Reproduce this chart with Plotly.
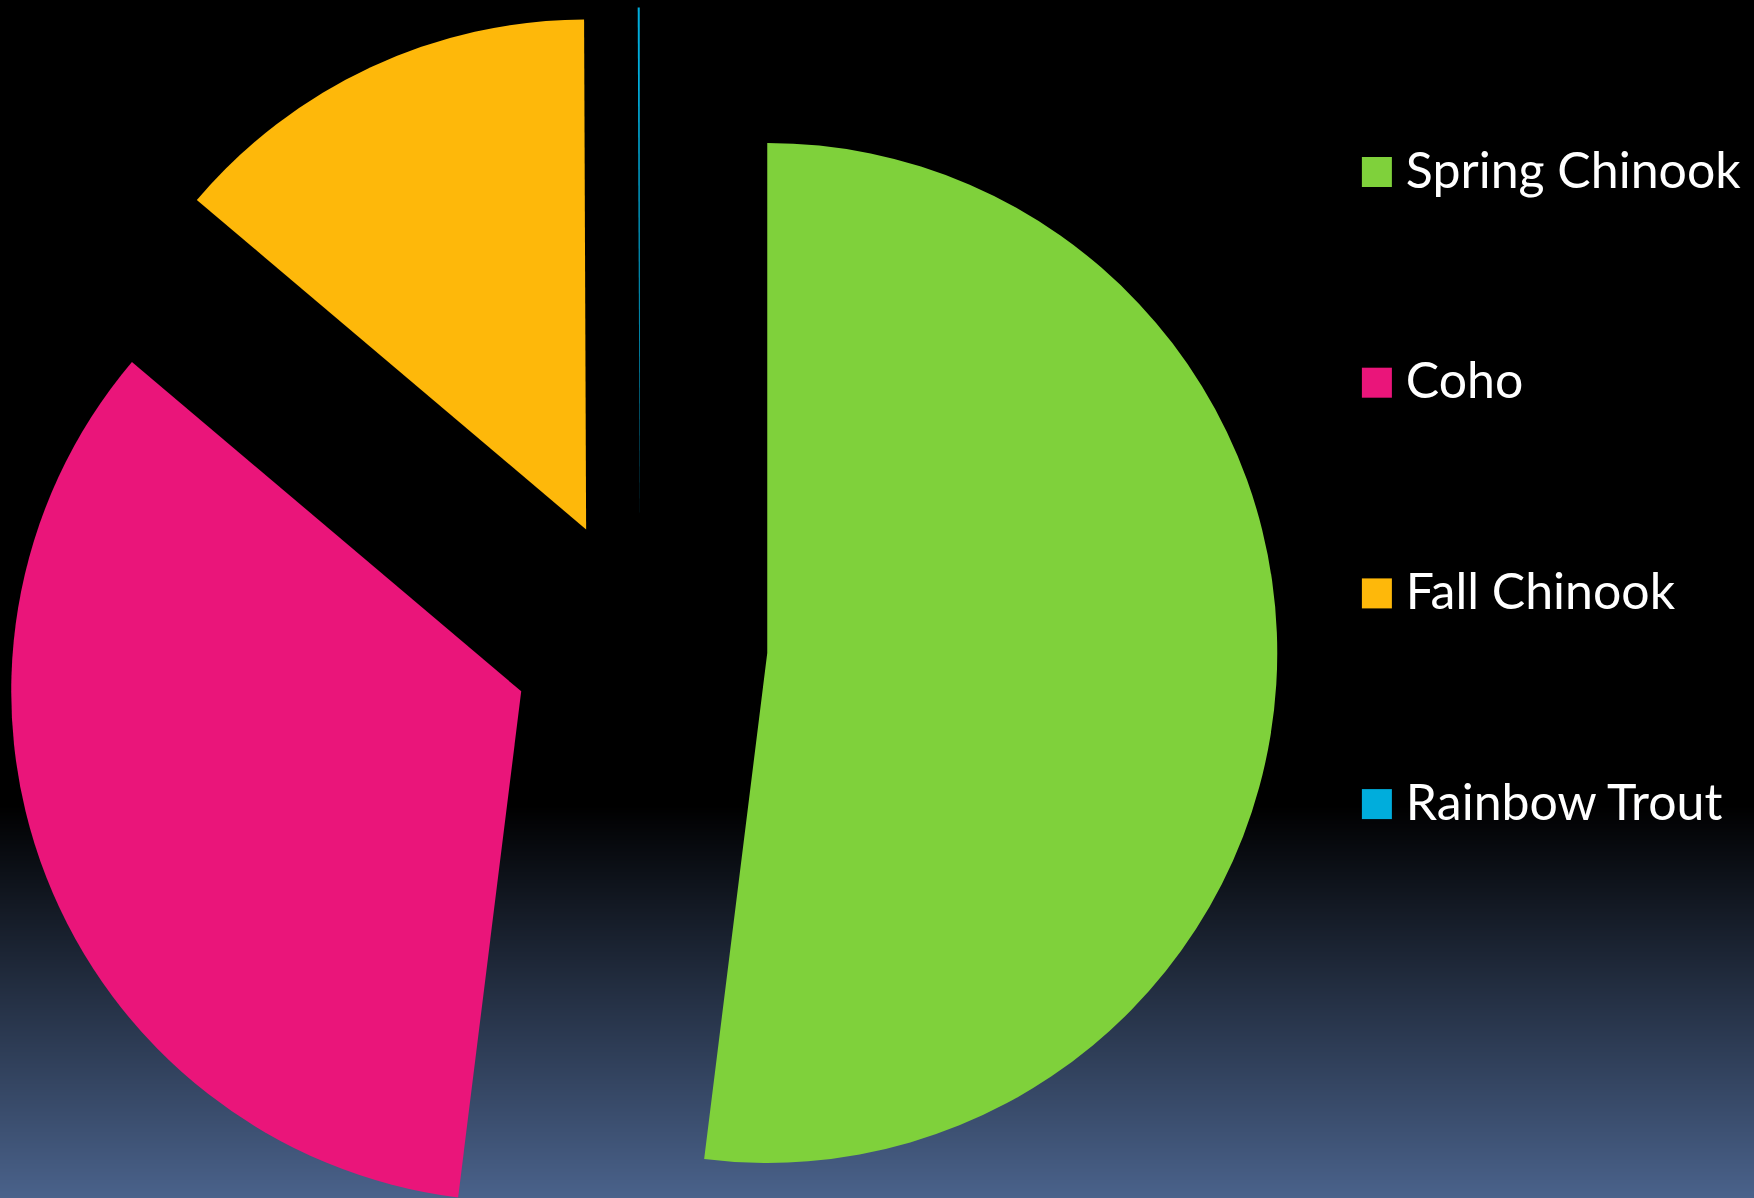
import plotly.graph_objects as go

# ---- data ----
species = ["Spring Chinook", "Coho", "Fall Chinook", "Rainbow Trout"]
counts = [816, 537, 216, 1]
colors = ["#7FD13B", "#EA157A", "#FEB80A", "#00ADDC"]

# ---- layout constants ----
W, H = 1754, 1290          # figure taller than the window: bottom part falls off-screen
VIS_H = 1198
PULL = 0.25

fig = go.Figure()

# background gradient (black -> slate blue at the bottom of the visible area)
fig.add_trace(go.Heatmap(
    x=[0, 1], y=[-100, 805, VIS_H, H + 100],
    z=[[0, 0], [0, 0], [1, 1], [1, 1]],
    colorscale=[[0, "#000000"], [1, "#4a628b"]],
    zsmooth="best", showscale=False, hoverinfo="skip",
    xaxis="x", yaxis="y",
))

# pie
fig.add_trace(go.Pie(
    labels=species, values=counts,
    marker=dict(colors=colors, line=dict(width=0)),
    sort=False, direction="clockwise", rotation=0,
    pull=[PULL] * len(species),
    textinfo="none", showlegend=False,
    domain=dict(x=[2.5 / W, 1277.5 / W], y=[1 - 1282.5 / H, 1 - 7.5 / H]),
))

# legend drawn as scatter markers + text on category axes
legend_marker_x = 0.785
legend_text_x = 0.8015
fig.add_trace(go.Scatter(
    x=[legend_marker_x] * len(species), y=species, mode="markers",
    marker=dict(symbol="square", size=30, color=colors, line=dict(width=0)),
    hoverinfo="skip", showlegend=False, xaxis="x2", yaxis="y2",
))
fig.add_trace(go.Scatter(
    x=[legend_text_x] * len(species), y=species, mode="text",
    text=species, textposition="middle right",
    textfont=dict(family="Lato", size=50, color="#ffffff"),
    hoverinfo="skip", showlegend=False, xaxis="x2", yaxis="y3",
))

first_center, pitch = 172, 210.7
text_center = 175
fig.update_layout(
    width=W, height=H,
    margin=dict(l=0, r=0, t=0, b=0),
    paper_bgcolor="#000000", plot_bgcolor="rgba(0,0,0,0)",
    showlegend=False,
    xaxis=dict(range=[0, 1], visible=False, domain=[0, 1], fixedrange=True),
    yaxis=dict(range=[H, 0], visible=False, domain=[0, 1], fixedrange=True),
    xaxis2=dict(range=[0, 1], visible=False, overlaying="x", anchor="y2", fixedrange=True),
    yaxis2=dict(type="category", categoryorder="array", categoryarray=species,
                range=[(H - first_center) / pitch, -first_center / pitch],
                visible=False, overlaying="y", anchor="x2", fixedrange=True),
    yaxis3=dict(type="category", categoryorder="array", categoryarray=species,
                range=[(H - text_center) / pitch, -text_center / pitch],
                visible=False, overlaying="y", anchor="x2", fixedrange=True),
)

page_css = (
    "document.documentElement.style.margin='0';"
    "document.documentElement.style.overflow='hidden';"
    "document.body.style.margin='0';"
    "document.body.style.overflow='hidden';"
    "document.body.style.background='#000';"
)
fig.write_html("out.html", post_script=page_css, config={"displayModeBar": False})
